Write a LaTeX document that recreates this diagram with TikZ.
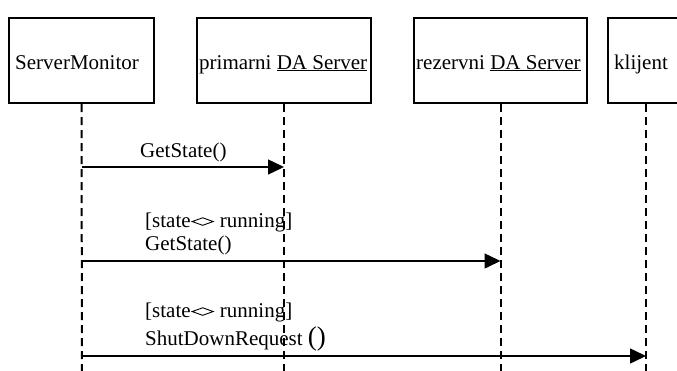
\documentclass[tikz,border=0pt]{standalone}
\usepackage{fontspec}
\setmainfont{Liberation Serif}
\usetikzlibrary{arrows.meta}
% flat diamond used for the "not equal" guard operator
\newcommand\ltgtdia{\hspace{0.05em}\tikz[baseline=0pt]\draw[line width=0.9pt,line join=miter]
  (0,0.26em)--(0.5em,0.44em)--(1em,0.26em)--(0.5em,0.08em)--cycle;\hspace{0.05em}}
\tikzset{
  lbox/.style={draw,line width=2pt,rectangle,inner sep=0pt,minimum height=85pt},
  ltext/.style={anchor=base west,inner sep=0pt,font=\fontsize{21}{24}\selectfont},
  lifeline/.style={line width=2pt,dash pattern=on 8pt off 5pt},
  msg/.style={line width=1.5pt,-{Triangle[length=16pt,width=15pt]}},
}
\begin{document}
\begin{tikzpicture}[x=1pt,y=-1pt]
\clip (0,0) rectangle (677,370);
\fill[white] (0,0) rectangle (677,370);

% object boxes
\node[lbox,minimum width=145pt] (sm)  at (81.5,60.5) {};
\node[lbox,minimum width=174pt] (pri) at (284,60.5) {};
\node[lbox,minimum width=173pt] (rez) at (500.5,60.5) {};
\node[lbox,minimum width=76pt]  (kli) at (646,60.5) {};

\node[ltext] (tsm)  at (15,69)  {ServerMonitor};
\node[ltext] (tpri) at (199,69) {primarni \underline{DA Server}};
\node[ltext] (trez) at (416,69) {rezervni \underline{DA Server}};
\node[ltext] (tkli) at (614,69) {klijent};

% lifelines
\coordinate (smE)  at (82,380);
\coordinate (priE) at (284,380);
\coordinate (rezE) at (500.5,380);
\coordinate (kliE) at (646,380);
\draw[lifeline] (sm.south)  -- (smE);
\draw[lifeline] (pri.south) -- (priE);
\draw[lifeline] (rez.south) -- (rezE);
\draw[lifeline] (kli.south) -- (kliE);

% message end points
\coordinate (m1s) at (82,167);   \coordinate (m1e) at (284,167);
\coordinate (m2s) at (82,261);   \coordinate (m2e) at (500.5,261);
\coordinate (m3s) at (82,356);   \coordinate (m3e) at (646,356);

\draw[msg] (m1s) -- (m1e);
\draw[msg] (m2s) -- (m2e);
\draw[msg] (m3s) -- (m3e);

% message labels
\node[ltext] (l1)  at (140,157) {GetState()};
\node[ltext] (g2)  at (145,227) {[state\ltgtdia{} running]};
\node[ltext] (l2)  at (145,250) {GetState()};
\node[ltext] (g3)  at (145,317) {[state\ltgtdia{} running]};
\node[ltext] (l3)  at (145,345) {ShutDownRequest {\fontsize{27}{30}\selectfont()}};
\end{tikzpicture}
\end{document}
